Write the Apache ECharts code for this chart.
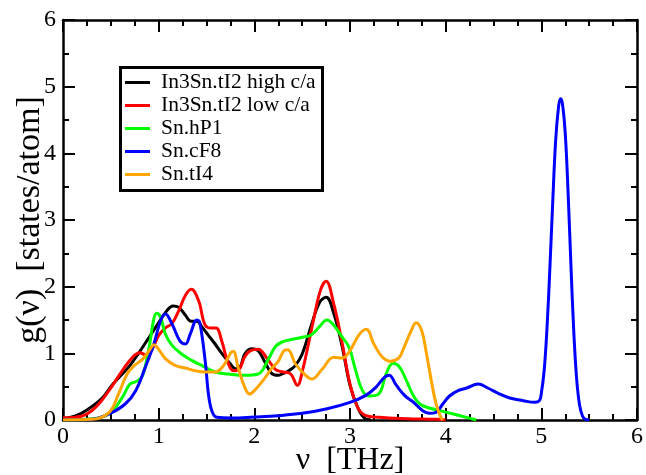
<!DOCTYPE html>
<html>
<head>
<meta charset="utf-8">
<script src="https://cdn.jsdelivr.net/npm/echarts@6/dist/echarts.min.js"></script>
<style>html,body{margin:0;padding:0;background:#fff}#c{width:646px;height:475px}</style>
</head>
<body>
<div id="c"></div>
<script>
var seriesNames = ['In3Sn.tI2 high c/a', 'In3Sn.tI2 low c/a', 'Sn.hP1', 'Sn.cF8', 'Sn.tI4'];
var seriesColors = ['#000000', '#ff0000', '#00ff00', '#0000ff', '#ffa500'];
var xTicks = [0, 1, 2, 3, 4, 5, 6];
var yTicks = [0, 1, 2, 3, 4, 5, 6];

var highCA = [[0,0.02],[0.13,0.06],[0.25,0.15],[0.41,0.33],[0.51,0.52],[0.58,0.63],[0.69,0.8],[0.79,1.0],[0.9,1.24],[1.0,1.46],[1.07,1.61],[1.15,1.71],[1.21,1.69],[1.28,1.57],[1.34,1.48],[1.4,1.48],[1.45,1.4],[1.52,1.27],[1.59,1.14],[1.66,1.0],[1.75,0.84],[1.8,0.77],[1.85,0.79],[1.9,0.99],[1.97,1.07],[2.04,1.04],[2.11,0.87],[2.18,0.7],[2.25,0.67],[2.29,0.69],[2.36,0.74],[2.43,0.82],[2.5,0.99],[2.6,1.44],[2.68,1.76],[2.75,1.84],[2.83,1.6],[2.92,1.09],[3.0,0.52],[3.08,0.19],[3.15,0.03],[3.22,0]];
var lowCA = [[0,0.03],[0.2,0.06],[0.34,0.19],[0.48,0.44],[0.62,0.74],[0.72,0.93],[0.8,1.01],[0.86,0.98],[0.93,1.06],[1.0,1.27],[1.07,1.38],[1.14,1.45],[1.21,1.64],[1.28,1.87],[1.34,1.96],[1.42,1.78],[1.48,1.44],[1.54,1.38],[1.6,1.38],[1.66,1.18],[1.72,0.88],[1.78,0.74],[1.84,0.76],[1.9,0.95],[1.96,1.04],[2.04,1.06],[2.13,0.93],[2.22,0.76],[2.3,0.72],[2.38,0.69],[2.45,0.52],[2.5,0.72],[2.61,1.44],[2.69,1.94],[2.75,2.08],[2.83,1.74],[2.92,1.14],[3.0,0.54],[3.08,0.19],[3.16,0.07],[3.3,0.04],[3.6,0.02],[3.9,0.01],[4.0,0]];
var hP1 = [[0,0],[0.23,0.01],[0.48,0.09],[0.62,0.34],[0.7,0.54],[0.77,0.58],[0.83,0.66],[0.9,1.09],[0.95,1.52],[0.98,1.6],[1.02,1.54],[1.07,1.29],[1.14,1.12],[1.24,0.99],[1.35,0.89],[1.45,0.82],[1.59,0.72],[1.73,0.69],[1.9,0.67],[2.04,0.69],[2.15,0.92],[2.22,1.1],[2.29,1.17],[2.4,1.21],[2.5,1.24],[2.59,1.27],[2.68,1.4],[2.76,1.5],[2.83,1.42],[2.92,1.24],[2.99,1.09],[3.06,0.74],[3.13,0.44],[3.2,0.36],[3.3,0.39],[3.38,0.7],[3.45,0.85],[3.52,0.79],[3.59,0.59],[3.66,0.37],[3.73,0.24],[3.83,0.18],[3.94,0.14],[4.08,0.09],[4.22,0.04],[4.32,0]];
var cF8 = [[0,0],[0.3,0.01],[0.48,0.09],[0.65,0.24],[0.76,0.44],[0.86,0.79],[0.95,1.14],[1.02,1.49],[1.07,1.59],[1.14,1.44],[1.22,1.19],[1.28,1.14],[1.33,1.29],[1.4,1.5],[1.43,1.46],[1.49,0.84],[1.52,0.39],[1.56,0.12],[1.61,0.04],[1.76,0.03],[2.0,0.045],[2.25,0.065],[2.5,0.1],[2.75,0.165],[3.0,0.265],[3.16,0.365],[3.27,0.49],[3.36,0.64],[3.41,0.67],[3.48,0.53],[3.57,0.37],[3.66,0.27],[3.76,0.14],[3.83,0.1],[3.9,0.115],[3.97,0.24],[4.04,0.36],[4.13,0.44],[4.22,0.48],[4.34,0.54],[4.44,0.48],[4.55,0.4],[4.67,0.33],[4.81,0.29],[4.93,0.265],[4.98,0.29],[5.0,0.4],[5.03,0.75],[5.06,1.4],[5.09,2.3],[5.12,3.3],[5.15,4.2],[5.18,4.7],[5.2,4.82],[5.22,4.75],[5.25,4.3],[5.28,3.4],[5.31,2.3],[5.34,1.3],[5.37,0.6],[5.4,0.22],[5.43,0.06],[5.46,0.01],[5.5,0]];
var tI4 = [[0,0],[0.3,0.01],[0.48,0.11],[0.58,0.39],[0.67,0.69],[0.74,0.81],[0.83,0.91],[0.91,1.06],[0.95,1.13],[1.0,1.06],[1.07,0.92],[1.17,0.82],[1.28,0.78],[1.38,0.74],[1.49,0.72],[1.59,0.72],[1.68,0.82],[1.75,1.0],[1.78,1.03],[1.83,0.79],[1.9,0.49],[1.95,0.39],[2.0,0.44],[2.09,0.59],[2.18,0.77],[2.25,0.88],[2.31,1.04],[2.35,1.055],[2.43,0.84],[2.54,0.665],[2.6,0.615],[2.71,0.765],[2.83,0.94],[2.92,0.93],[3.0,1.04],[3.09,1.27],[3.17,1.36],[3.25,1.14],[3.34,0.94],[3.42,0.88],[3.51,0.93],[3.55,1.04],[3.64,1.34],[3.69,1.46],[3.75,1.34],[3.8,0.99],[3.85,0.59],[3.9,0.24],[3.95,0.04],[3.97,0]];

var allData = [highCA, lowCA, hP1, cF8, tI4];
var FONT = '"Liberation Serif", "DejaVu Serif", serif';

function axisCommon(showLabels, minorSplit, ticks) {
  return {
    type: 'value', min: ticks[0], max: ticks[ticks.length - 1], interval: 1,
    axisLine: { show: true, onZero: false, lineStyle: { color: '#000', width: 2.5 } },
    axisTick: { show: true, inside: true, length: 12, lineStyle: { color: '#000', width: 2 } },
    minorTick: { show: true, splitNumber: minorSplit, length: 6, lineStyle: { color: '#000', width: 2 } },
    splitLine: { show: false },
    axisLabel: { show: showLabels, color: '#000', fontFamily: FONT, fontSize: 24 }
  };
}

var xMain = axisCommon(true, 4, xTicks);
xMain.position = 'bottom';
xMain.name = 'ν  [THz]';
xMain.nameLocation = 'middle';
xMain.nameGap = 25;
xMain.nameMoveOverlap = false;
xMain.nameTextStyle = { color: '#000', fontFamily: FONT, fontSize: 32 };
xMain.axisLabel.margin = 5;
var xTop = axisCommon(false, 4, xTicks); xTop.position = 'top';

var yMain = axisCommon(true, 2, yTicks);
yMain.position = 'left';
yMain.name = 'g(ν)  [states/atom]';
yMain.nameLocation = 'middle';
yMain.nameGap = 16;
yMain.nameMoveOverlap = false;
yMain.nameTextStyle = { color: '#000', fontFamily: FONT, fontSize: 34 };
yMain.axisLabel.margin = 7;
var yRight = axisCommon(false, 2, yTicks); yRight.position = 'right';

var series = seriesNames.map(function (n, i) {
  return {
    name: n, type: 'line', data: allData[i], xAxisIndex: 0, yAxisIndex: 0,
    showSymbol: false, symbol: 'none', smooth: 0.4, clip: true,
    lineStyle: { color: seriesColors[i], width: 3 }, itemStyle: { color: seriesColors[i] }
  };
});

var chart = echarts.init(document.getElementById('c'), null, { renderer: 'canvas' });
chart.setOption({
  animation: false,
  backgroundColor: '#fff',
  grid: { left: 63, right: 9, top: 20, bottom: 55, containLabel: false, outerBoundsMode: 'none' },
  xAxis: [xMain, xTop],
  yAxis: [yMain, yRight],
  legend: {
    data: seriesNames.map(function (n) { return { name: n, icon: 'rect' }; }),
    orient: 'vertical', left: 125, top: 71, padding: 0,
    itemWidth: 25, itemHeight: 3, itemGap: 0,
    textStyle: { color: '#000', fontFamily: FONT, fontSize: 21.5, lineHeight: 23, padding: [0, 0, 0, 6] },
    selectedMode: false
  },
  graphic: [{
    type: 'rect', left: 118, top: 65, z: 100,
    shape: { width: 202, height: 123 },
    style: { fill: 'none', stroke: '#000', lineWidth: 3 }
  }],
  series: series
});
</script>
</body>
</html>
